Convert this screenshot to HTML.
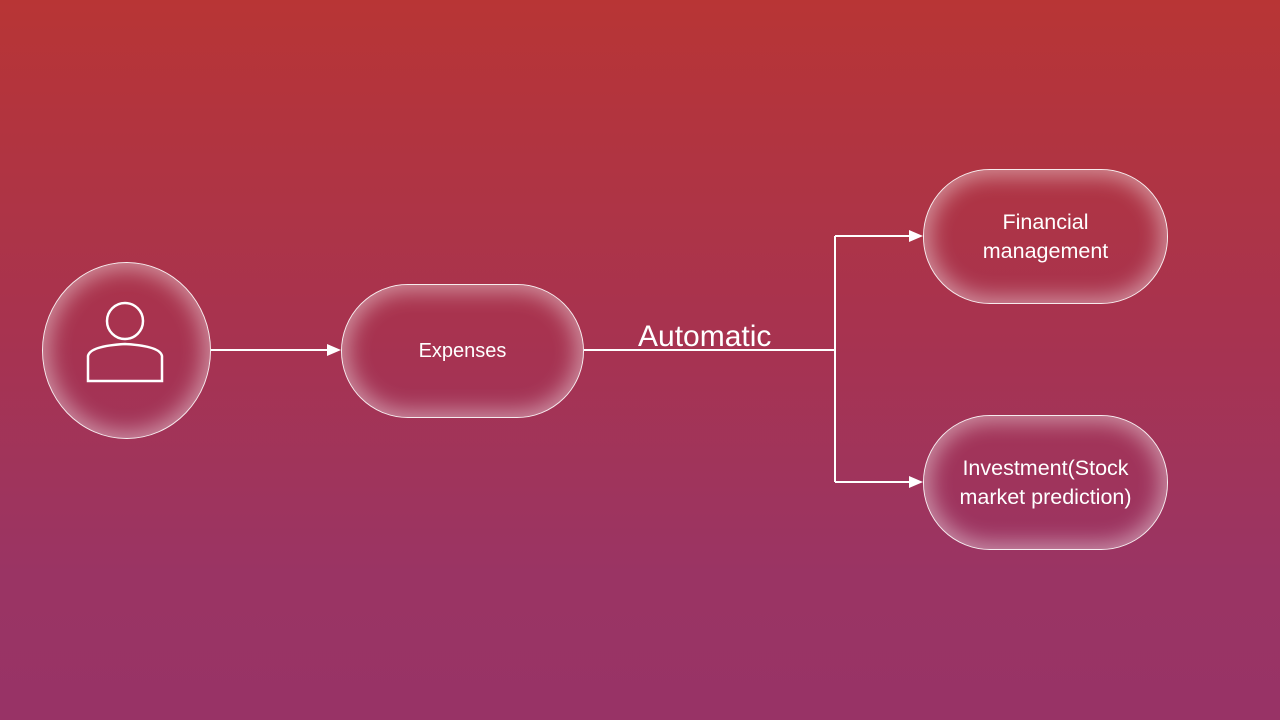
<!DOCTYPE html>
<html><head><meta charset="utf-8"><style>
html,body{margin:0;padding:0}
body{width:1280px;height:720px;position:relative;overflow:hidden;background:linear-gradient(180deg,#b83535 0%,#a8334f 45%,#9a3464 80%,#983366 100%);font-family:"Liberation Sans",Calibri,sans-serif;color:#fff}
.n{position:absolute;box-sizing:border-box;border:1.5px solid rgba(255,255,255,.9);box-shadow:inset 0 0 22px 6px rgba(255,255,255,.45);display:flex;align-items:center;justify-content:center;text-align:center;font-size:20px;line-height:29px}
.b{font-size:21.5px}
svg{position:absolute;left:0;top:0}
</style></head><body>
<div class="n" style="left:42px;top:262px;width:169px;height:177px;border-radius:50%"></div>
<div class="n" style="left:341px;top:284px;width:243px;height:134px;border-radius:67px">Expenses</div>
<div class="n b" style="left:923px;top:169px;width:245px;height:135px;border-radius:67px">Financial<br>management</div>
<div class="n b" style="left:923px;top:415px;width:245px;height:135px;border-radius:67px">Investment(Stock<br>market prediction)</div>
<svg width="1280" height="720">
<g fill="none" stroke="#fff" stroke-width="2.5">
<circle cx="125" cy="321" r="18"/>
<path d="M88 381 V356 Q90 346 125 344 Q160 346 162 356 V381 Z"/>
</g>
<g stroke="#fff" stroke-width="2" fill="none">
<path d="M211 350 H330"/>
<path d="M584 350 H835 M835 236 V482 M835 236 H912 M835 482 H912"/>
</g>
<g fill="#fff">
<path d="M341 350 L327 344 L327 356 Z"/>
<path d="M923 236 L909 230 L909 242 Z"/>
<path d="M923 482 L909 476 L909 488 Z"/>
</g>
<text x="638" y="346" fill="#fff" font-family="Liberation Sans, sans-serif" font-size="30">Automatic</text>
</svg>
</body></html>
